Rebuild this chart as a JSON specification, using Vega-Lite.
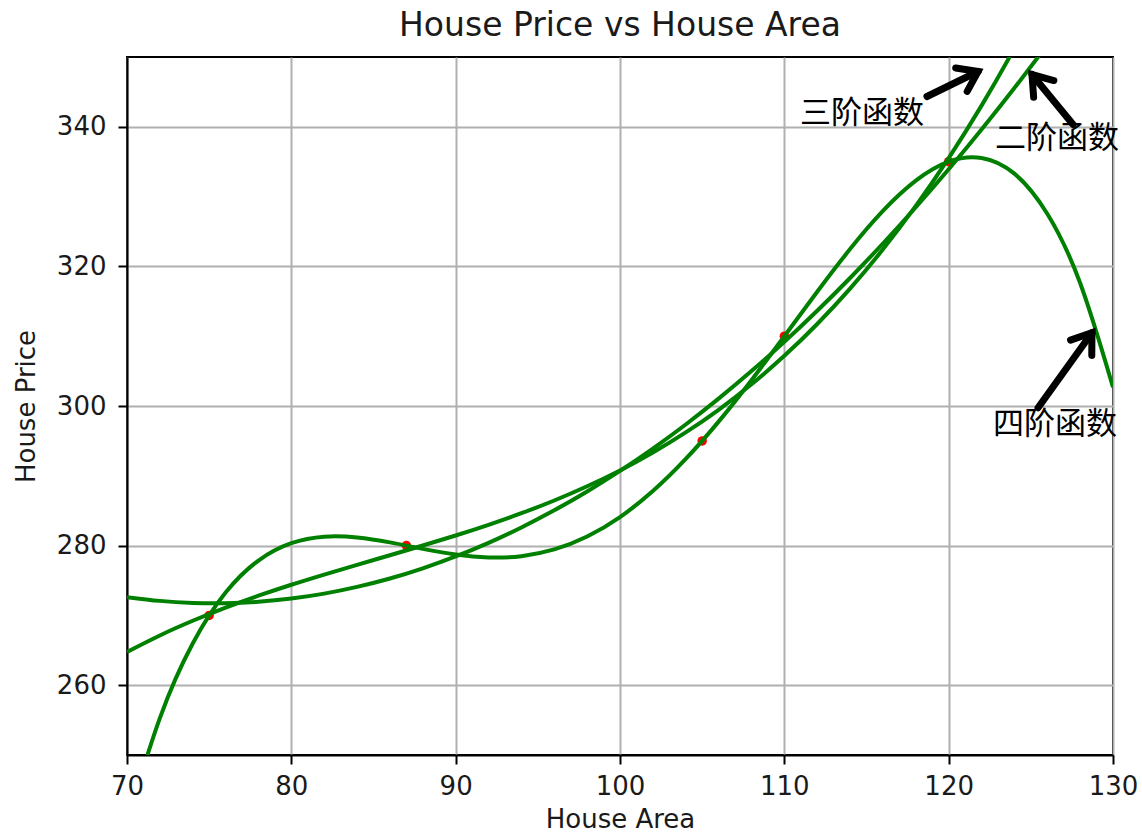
{
  "$schema": "https://vega.github.io/schema/vega-lite/v6.json",
  "width": 986,
  "height": 698,
  "autosize": "none",
  "padding": {"left": 127, "top": 57, "right": 29, "bottom": 78},
  "background": "white",
  "title": {"text": "House Price vs House Area", "fontSize": 33, "font": "DejaVu Sans", "fontWeight": "normal", "color": "#1a1a1a", "baseline": "alphabetic", "offset": -15, "anchor": "middle", "frame": "group"},
  "config": {
    "view": {"stroke": "black", "strokeWidth": 2},
    "font": "DejaVu Sans",
    "axis": {
      "grid": true, "gridColor": "#b0b0b0", "gridWidth": 2,
      "tickColor": "black", "tickWidth": 2, "tickSize": 9,
      "labelFontSize": 26, "labelColor": "#1a1a1a", "labelFont": "DejaVu Sans",
      "labelFlush": false, "labelOverlap": false,
      "domainColor": "black", "domainWidth": 2,
      "titleFontSize": 26, "titleFontWeight": "normal", "titleColor": "#1a1a1a", "titleFont": "DejaVu Sans"
    }
  },
  "datasets": {
    "pts": [
      {"area": 75, "price": 270},
      {"area": 87, "price": 280},
      {"area": 105, "price": 295},
      {"area": 110, "price": 310},
      {"area": 120, "price": 335}
    ],
    "fits": [
      {"fit": "2", "area": 70, "price": 272.62}, {"fit": "2", "area": 72, "price": 272.08}, {"fit": "2", "area": 74, "price": 271.79}, {"fit": "2", "area": 76, "price": 271.75}, {"fit": "2", "area": 78, "price": 271.96}, {"fit": "2", "area": 80, "price": 272.42}, {"fit": "2", "area": 82, "price": 273.12}, {"fit": "2", "area": 84, "price": 274.08}, {"fit": "2", "area": 86, "price": 275.28}, {"fit": "2", "area": 88, "price": 276.74}, {"fit": "2", "area": 90, "price": 278.44}, {"fit": "2", "area": 92, "price": 280.39}, {"fit": "2", "area": 94, "price": 282.60}, {"fit": "2", "area": 96, "price": 285.05}, {"fit": "2", "area": 98, "price": 287.75}, {"fit": "2", "area": 100, "price": 290.70}, {"fit": "2", "area": 102, "price": 293.90}, {"fit": "2", "area": 104, "price": 297.35}, {"fit": "2", "area": 106, "price": 301.05}, {"fit": "2", "area": 108, "price": 305.00}, {"fit": "2", "area": 110, "price": 309.19}, {"fit": "2", "area": 112, "price": 313.64}, {"fit": "2", "area": 114, "price": 318.34}, {"fit": "2", "area": 116, "price": 323.28}, {"fit": "2", "area": 118, "price": 328.48}, {"fit": "2", "area": 120, "price": 333.92}, {"fit": "2", "area": 122, "price": 339.62}, {"fit": "2", "area": 124, "price": 345.56}, {"fit": "2", "area": 126, "price": 351.75}, {"fit": "2", "area": 128, "price": 358.19}, {"fit": "2", "area": 130, "price": 364.89},
      {"fit": "3", "area": 70, "price": 264.77}, {"fit": "3", "area": 72, "price": 267.13}, {"fit": "3", "area": 74, "price": 269.23}, {"fit": "3", "area": 76, "price": 271.12}, {"fit": "3", "area": 78, "price": 272.82}, {"fit": "3", "area": 80, "price": 274.39}, {"fit": "3", "area": 82, "price": 275.85}, {"fit": "3", "area": 84, "price": 277.25}, {"fit": "3", "area": 86, "price": 278.62}, {"fit": "3", "area": 88, "price": 280.01}, {"fit": "3", "area": 90, "price": 281.45}, {"fit": "3", "area": 92, "price": 282.98}, {"fit": "3", "area": 94, "price": 284.64}, {"fit": "3", "area": 96, "price": 286.46}, {"fit": "3", "area": 98, "price": 288.50}, {"fit": "3", "area": 100, "price": 290.77}, {"fit": "3", "area": 102, "price": 293.34}, {"fit": "3", "area": 104, "price": 296.22}, {"fit": "3", "area": 106, "price": 299.46}, {"fit": "3", "area": 108, "price": 303.11}, {"fit": "3", "area": 110, "price": 307.19}, {"fit": "3", "area": 112, "price": 311.75}, {"fit": "3", "area": 114, "price": 316.82}, {"fit": "3", "area": 116, "price": 322.44}, {"fit": "3", "area": 118, "price": 328.66}, {"fit": "3", "area": 120, "price": 335.51}, {"fit": "3", "area": 122, "price": 343.03}, {"fit": "3", "area": 124, "price": 351.25}, {"fit": "3", "area": 126, "price": 360.22}, {"fit": "3", "area": 128, "price": 369.98}, {"fit": "3", "area": 130, "price": 380.55},
      {"fit": "4", "area": 70, "price": 240.49}, {"fit": "4", "area": 72, "price": 255.28}, {"fit": "4", "area": 74, "price": 265.97}, {"fit": "4", "area": 76, "price": 273.27}, {"fit": "4", "area": 78, "price": 277.86}, {"fit": "4", "area": 80, "price": 280.35}, {"fit": "4", "area": 82, "price": 281.28}, {"fit": "4", "area": 84, "price": 281.17}, {"fit": "4", "area": 86, "price": 280.46}, {"fit": "4", "area": 88, "price": 279.53}, {"fit": "4", "area": 90, "price": 278.72}, {"fit": "4", "area": 92, "price": 278.30}, {"fit": "4", "area": 94, "price": 278.49}, {"fit": "4", "area": 96, "price": 279.45}, {"fit": "4", "area": 98, "price": 281.30}, {"fit": "4", "area": 100, "price": 284.09}, {"fit": "4", "area": 102, "price": 287.81}, {"fit": "4", "area": 104, "price": 292.41}, {"fit": "4", "area": 106, "price": 297.76}, {"fit": "4", "area": 108, "price": 303.70}, {"fit": "4", "area": 110, "price": 310.00}, {"fit": "4", "area": 112, "price": 316.37}, {"fit": "4", "area": 114, "price": 322.48}, {"fit": "4", "area": 116, "price": 327.94}, {"fit": "4", "area": 118, "price": 332.28}, {"fit": "4", "area": 120, "price": 335.00}, {"fit": "4", "area": 122, "price": 335.54}, {"fit": "4", "area": 124, "price": 333.29}, {"fit": "4", "area": 126, "price": 327.55}, {"fit": "4", "area": 128, "price": 317.62}, {"fit": "4", "area": 130, "price": 302.69}
    ],
    "arrows": [
      {"label": "三阶函数", "area": 118.68, "price": 344.34, "tipArea": 121.79, "tipPrice": 347.92},
      {"label": "二阶函数", "area": 127.57, "price": 340.32, "tipArea": 125.07, "tipPrice": 347.49},
      {"label": "四阶函数", "area": 125.44, "price": 299.75, "tipArea": 128.72, "tipPrice": 310.5}
    ],
    "notes": [
      {"label": "三阶函数", "area": 110.95, "price": 341.9},
      {"label": "二阶函数", "area": 122.82, "price": 338.2},
      {"label": "四阶函数", "area": 122.7, "price": 297.25}
    ]
  },
  "encoding": {
    "x": {"field": "area", "type": "quantitative", "scale": {"domain": [70, 130], "nice": false, "zero": false}, "axis": {"title": "House Area", "values": [70, 80, 90, 100, 110, 120, 130], "labelPadding": 9, "titlePadding": 7}},
    "y": {"field": "price", "type": "quantitative", "scale": {"domain": [250, 350], "nice": false, "zero": false}, "axis": {"title": "House Price", "values": [260, 280, 300, 320, 340], "labelPadding": 12, "titlePadding": 17}}
  },
  "layer": [
    {
      "data": {"name": "pts"},
      "mark": {"type": "circle", "color": "#ff0000", "size": 90, "opacity": 1}
    },
    {
      "data": {"name": "fits"},
      "mark": {"type": "line", "color": "#008000", "strokeWidth": 4, "clip": true, "interpolate": "natural"},
      "encoding": {"detail": {"field": "fit"}}
    },
    {
      "data": {"name": "arrows"},
      "mark": {"type": "rule", "color": "black", "strokeWidth": 7, "strokeCap": "round"},
      "encoding": {"x2": {"field": "tipArea"}, "y2": {"field": "tipPrice"}}
    },
    {
      "data": {"name": "arrows"},
      "transform": [{"filter": "datum.label === '三阶函数'"}],
      "mark": {"type": "point", "shape": "M-0.6,0.85L0,0L0.6,0.85", "filled": false, "stroke": "black", "strokeWidth": 7, "strokeCap": "round", "strokeJoin": "miter", "size": 1900, "angle": 63.9, "opacity": 1},
      "encoding": {"x": {"field": "tipArea", "type": "quantitative"}, "y": {"field": "tipPrice", "type": "quantitative"}}
    },
    {
      "data": {"name": "arrows"},
      "transform": [{"filter": "datum.label === '二阶函数'"}],
      "mark": {"type": "point", "shape": "M-0.6,0.85L0,0L0.6,0.85", "filled": false, "stroke": "black", "strokeWidth": 7, "strokeCap": "round", "strokeJoin": "miter", "size": 1900, "angle": -39.4, "opacity": 1},
      "encoding": {"x": {"field": "tipArea", "type": "quantitative"}, "y": {"field": "tipPrice", "type": "quantitative"}}
    },
    {
      "data": {"name": "arrows"},
      "transform": [{"filter": "datum.label === '四阶函数'"}],
      "mark": {"type": "point", "shape": "M-0.6,0.85L0,0L0.6,0.85", "filled": false, "stroke": "black", "strokeWidth": 7, "strokeCap": "round", "strokeJoin": "miter", "size": 1900, "angle": 35.7, "opacity": 1},
      "encoding": {"x": {"field": "tipArea", "type": "quantitative"}, "y": {"field": "tipPrice", "type": "quantitative"}}
    },
    {
      "data": {"name": "notes"},
      "mark": {"type": "text", "align": "left", "baseline": "middle", "font": "Noto Sans CJK SC", "fontSize": 31, "color": "black"},
      "encoding": {"text": {"field": "label"}}
    }
  ]
}
